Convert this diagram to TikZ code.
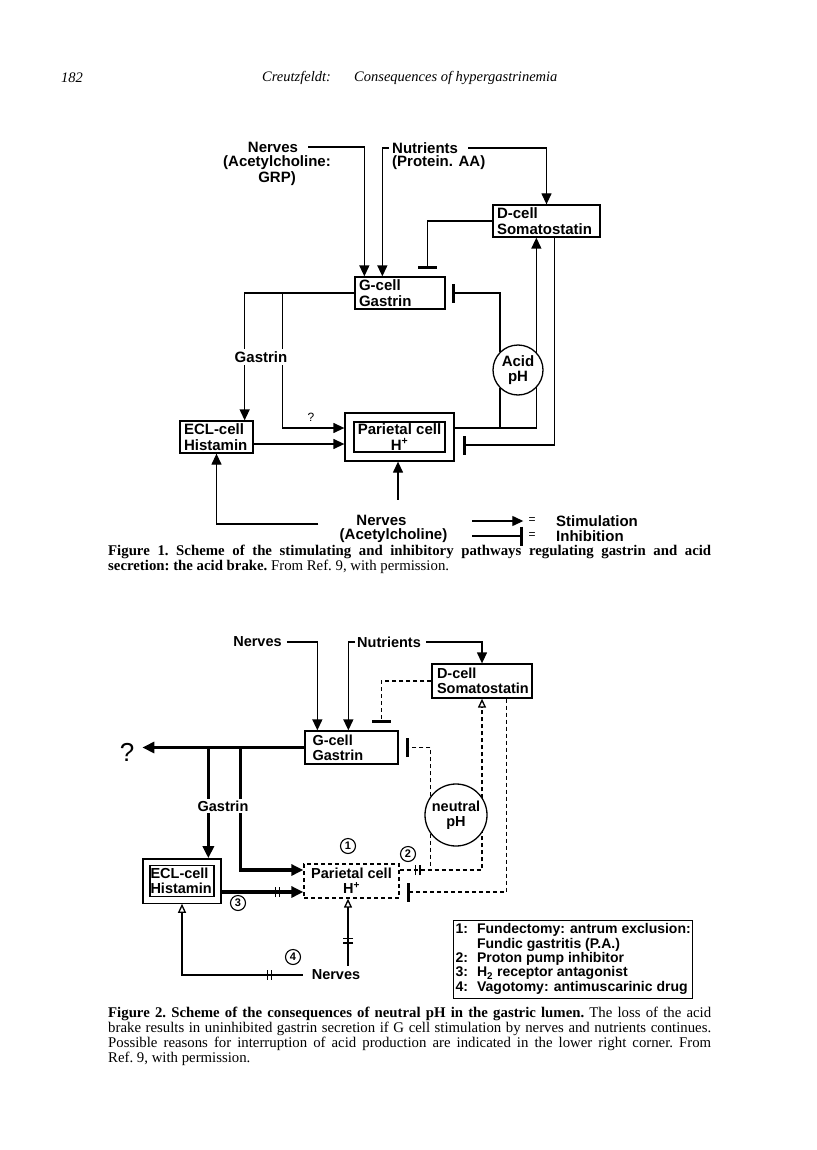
\documentclass[tikz,border=0pt]{standalone}
\usepackage{fontspec}
\setmainfont{Liberation Serif}
\setsansfont{Liberation Sans}
\usetikzlibrary{arrows.meta, backgrounds, calc, decorations.markings}

\tikzset{
  font=\sffamily\bfseries\fontsize{15}{15.5}\selectfont,
  >={Triangle[length=11pt, width=10pt]},
  %
  cell/.style={draw, line width=1.3pt, fill=white, align=left,
               inner xsep=4pt, inner ysep=1pt},
  cellx/.style={cell, double, double distance=#1},
  cellsoft/.style={cell, dash pattern=on 4pt off 3pt},
  ring/.style={circle, draw, line width=1.3pt, fill=white, align=center,
               inner sep=0pt},
  num/.style={circle, draw, line width=1.1pt, fill=white, inner sep=0pt,
              minimum size=15pt, font=\sffamily\bfseries\fontsize{11}{11}\selectfont},
  keybox/.style={draw, line width=1.3pt, fill=white, inner xsep=2pt, inner ysep=3pt,
                 font=\sffamily\bfseries\fontsize{14}{14}\selectfont},
  %
  wire/.style={line width=1.3pt},
  dwire/.style={wire, dash pattern=on 4pt off 3pt},
  flow/.style={wire, ->},
  flowbold/.style={line width=3.3pt, -{Triangle[length=12pt, width=11pt]}},
  flowopen/.style={wire, -{Triangle[open, length=9pt, width=8pt]}},
  dflow/.style={flowopen, dash pattern=on 4pt off 3pt},
  brake/.style={wire, -{Bar[width=19pt, line width=3.5pt]}},
  dbrake/.style={brake, dash pattern=on 4pt off 3pt},
  blocked/.style={postaction={decorate, decoration={markings,
      mark=at position #1 with {\draw[solid, line width=1.3pt, -]
        (-2.2pt,-5pt) -- (-2.2pt,5pt) (2.2pt,-5pt) -- (2.2pt,5pt);}}}},
  %
  lbl/.style={inner sep=1pt},
  lblsm/.style={inner sep=1pt, font=\sffamily\bfseries\fontsize{14.5}{15}\selectfont},
  head/.style={anchor=west, inner sep=0pt,
               font=\rmfamily\mdseries\itshape\fontsize{14.5}{14.5}\selectfont},
  capt/.style={anchor=north west, inner sep=0pt, text width=603pt, align=justify,
               font=\rmfamily\mdseries\fontsize{14.8}{15}\selectfont\frenchspacing},
}

\begin{document}
\begin{tikzpicture}[x=1pt, y=-1pt]
  \useasboundingbox (0,0) rectangle (816,1150);

  % --- running head ---------------------------------------------------
  \node[head] (pgno) at (61,78)  {182};
  \node[head] (auth) at (262,78) {Creutzfeldt:};
  \node[head] (ttl)  at (354,78) {Consequences of hypergastrinemia};

  % --- figure 1: the acid brake ---------------------------------------
  \node[lbl] (nA) at (273,147) {Nerves};
  \node[lbl, align=center] (nAsub) at (277,170.5) {(Acetylcholine:\\GRP)};
  \node[lbl, anchor=west] (nuA) at (391,148) {Nutrients};
  \node[lbl, anchor=west] (nuAsub) at (391,163) {(Protein. AA)};

  \node[cell, text width=99pt, minimum height=32pt] (dA) at (546.5,221) {D-cell\\Somatostatin};
  \node[cell, text width=82pt, minimum height=32pt] (gA) at (400,293) {G-cell\\Gastrin};
  \node[ring, minimum size=50pt] (acid) at (518,370) {Acid\\pH};
  \node[lbl, fill=white, inner sep=2pt] (gsA) at (261,357) {Gastrin};
  \node[lbl, font=\sffamily\mdseries\fontsize{12}{12}\selectfont] (qA) at (311,417) {?};
  \node[cell, text width=65pt, minimum height=32pt] (eA) at (216.5,437) {ECL-cell\\Histamin};
  \node[cellx=7.7pt, outer sep=5.15pt, align=center, minimum width=100pt,
        minimum height=39pt] (pA) at (399.5,437) {Parietal cell\\H\textsuperscript{+}};

  \node[lbl] (nB) at (381.5,520) {Nerves};
  \node[lbl] (nBsub) at (393.5,536) {(Acetylcholine)};

  \node[lbl, font=\sffamily\mdseries\fontsize{12}{12}\selectfont] (eqA) at (532,521) {=};
  \node[lbl, font=\sffamily\mdseries\fontsize{12}{12}\selectfont] (eqB) at (532,536) {=};
  \node[lbl, anchor=west] (stA) at (555,521) {Stimulation};
  \node[lbl, anchor=west] (inB) at (555,536) {Inhibition};

  \node[capt] (capA) at (108,545)
    {\textbf{Figure 1. Scheme of the stimulating and inhibitory pathways regulating gastrin and acid\linebreak
     secretion: the acid brake.} From Ref.~9, with permission.};

  % --- figure 2: neutral pH -------------------------------------------
  \node[lblsm] (nC) at (257.5,642) {Nerves};
  \node[lblsm, anchor=west] (nuC) at (356,642) {Nutrients};

  \node[cell, lblsm, inner xsep=5pt, inner ysep=1pt, text width=90pt, minimum height=34pt]
    (dC) at (482,681) {D-cell\\Somatostatin};
  \node[cell, lblsm, inner xsep=7.5pt, inner ysep=1pt, text width=78pt, minimum height=33pt]
    (gC) at (351.5,747.5) {G-cell\\Gastrin};
  \node[lblsm, font=\sffamily\mdseries\fontsize{26}{26}\selectfont] (qC) at (127,752) {?};
  \node[ring, lblsm, inner sep=0pt, minimum size=62pt] (neu) at (456,815) {neutral\\pH};
  \node[lblsm, fill=white, inner sep=2pt] (gsC) at (223,806) {Gastrin};

  \node[cellx=5.5pt, lblsm, outer sep=4.05pt, inner xsep=4pt, inner ysep=1pt,
        text width=63pt, minimum height=37.5pt] (eC) at (182,881) {ECL-cell\\Histamin};
  \node[cellsoft, lblsm, align=center, inner ysep=1pt, minimum width=95pt,
        minimum height=34pt] (pC) at (351.5,881) {Parietal cell\\H\textsuperscript{+}};

  \node[num] (k1) at (348,846) {1};
  \node[num] (k2) at (408,854) {2};
  \node[num] (k3) at (238,903) {3};
  \node[num] (k4) at (293,957) {4};

  \node[lblsm] (nD) at (336,975) {Nerves};

  \node[keybox, anchor=north west] (keyC) at (453,920)
    {\begin{tabular}{@{}l@{\hspace{9pt}}l@{}}
       1: & Fundectomy: antrum exclusion:\\
          & Fundic gastritis (P.A.)\\
       2: & Proton pump inhibitor\\
       3: & H\textsubscript{2} receptor antagonist\\
       4: & Vagotomy: antimuscarinic drug
     \end{tabular}};

  \node[capt] (capC) at (108,1007)
    {\textbf{Figure 2. Scheme of the consequences of neutral pH in the gastric lumen.} The loss of the acid\linebreak
     brake results in uninhibited gastrin secretion if G cell stimulation by nerves and nutrients continues.\linebreak
     Possible reasons for interruption of acid production are indicated in the lower right corner. From\linebreak
     Ref.~9, with permission.};

  % --- connectors (behind the cells) ----------------------------------
  \begin{scope}[on background layer]
    \fill[white] (0,0) rectangle (816,1150);

    % figure 1
    \draw[flow] ($(nA.east)+(9,0)$) -| ($(gA.north west)+(10,0)$);
    \draw[flow] ($(nuA.west)+(-2,0)$) -| ($(gA.north west)+(28,0)$);
    \draw[flow] ($(nuA.east)+(9,0)$) -| (dA.north);
    \draw[brake] (dA.west) -| ($(gA.north west)+(73,-7)$);
    \draw[brake] (acid.135) |- ($(gA.east)+(6,0)$);
    \draw[flow] (gA.west) -| ($(eA.north east)+(-9,0)$);
    \draw[flow] ($(gA.west)+(-72,0)$) |- ($(pA.west)+(0,-9)$);
    \draw[flow] ($(eA.east)+(0,7)$) -- ($(pA.west)+(0,7)$);
    \coordinate (pAr) at ($(pA.east)+(0,-9)$);
    \draw[flow] (pAr) -| ($(dA.south west)+(44,0)$);
    \draw[wire] (acid.225) -- (acid.225 |- pAr);
    \draw[brake] ($(dA.south east)+(-46,0)$) |- ($(pA.east)+(8,8)$);
    \draw[flow] ($(nB.north)+(16.5,-14)$) -- ($(pA.south)+(-1.5,0)$);
    \draw[flow] ($(nB.west)+(-37,4)$) -| (eA.south);
    \draw[flow] ($(eqA.west)+(-55,0)$) -- ($(eqA.west)+(-4,0)$);
    \draw[brake] ($(eqB.west)+(-55,0)$) -- ($(eqB.west)+(-4,0)$);

    % figure 2
    \draw[flow] ($(nC.east)+(4,0)$) -| ($(gC.north west)+(13,0)$);
    \draw[flow] ($(nuC.west)+(-1,0)$) -| ($(gC.north west)+(44,0)$);
    \draw[flow] ($(nuC.east)+(4,0)$) -| (dC.north);
    \draw[dbrake] (dC.west) -| ($(gC.north west)+(77,-7)$);
    \draw[dbrake] (neu.144) |- ($(gC.east)+(7,0)$);
    \draw[flowbold] (gC.west) -- ($(gC.west)+(-162,0)$);
    \coordinate (gCa) at ($(gC.west)+(-96,0)$);
    \coordinate (gCb) at ($(gC.west)+(-64,0)$);
    \draw[flowbold] (gCa) -- (gCa |- eC.north);
    \draw[flowbold] (gCb) |- ($(pC.west)+(0,-11)$);
    \draw[flowbold, blocked=-26pt] ($(eC.east)+(0,11)$) -- ($(pC.west)+(0,11)$);
    \coordinate (pCr) at ($(pC.east)+(0,-11)$);
    \draw[dflow, blocked=18pt] (pCr) -| (dC.south);
    \draw[dwire] (neu.216) -- (neu.216 |- pCr);
    \draw[dbrake] ($(dC.south east)+(-26,0)$) |- ($(pC.east)+(7,11)$);
    \draw[flowopen, blocked=25pt] ($(nD.north)+(12,-3)$) -- ($(pC.south)+(-3.5,0)$);
    \draw[flowopen, blocked=33pt] ($(nD.west)+(-8,0)$) -| (eC.south);
  \end{scope}
\end{tikzpicture}
\end{document}
